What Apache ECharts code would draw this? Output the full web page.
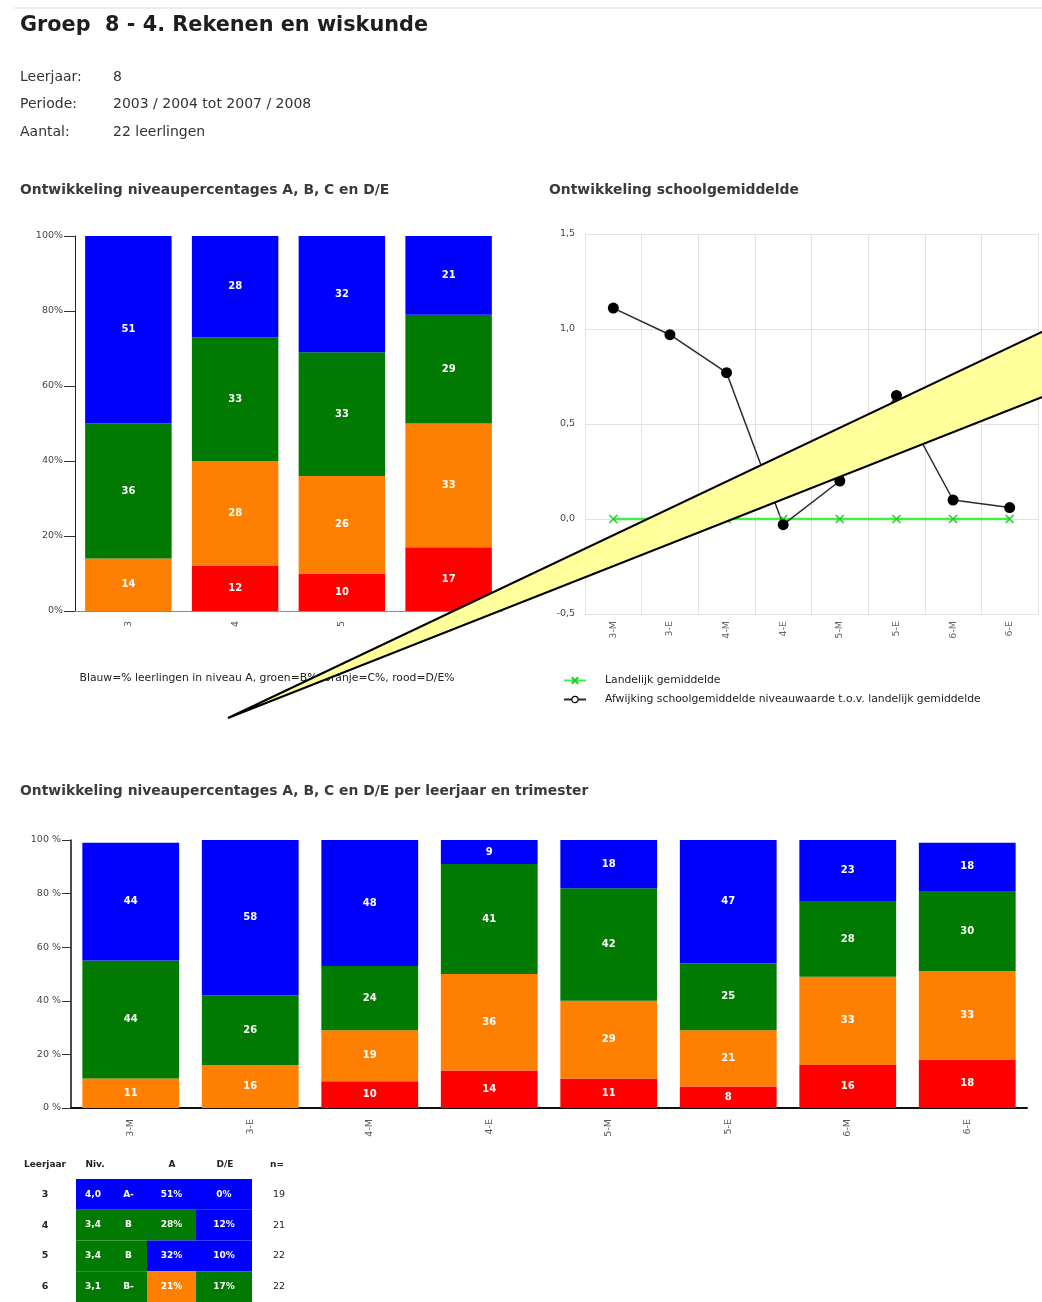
<!DOCTYPE html>
<html>
<head>
<meta charset="utf-8">
<script src="https://cdn.jsdelivr.net/npm/echarts@6/dist/echarts.min.js"></script>
<style>
  html, body { margin: 0; padding: 0; background: #ffffff; }
  #chart { width: 1042px; height: 1302px; }
</style>
</head>
<body>
<div id="chart"></div>
<script>
// ---- Data ----
// Per leerjaar (groep 3 t/m 6): percentage leerlingen per niveau
const yearCats = ['3', '4', '5', '6'];
const yearDE = [null, 12, 10, 17];   // rood   = D/E
const yearC  = [14, 28, 26, 33];     // oranje = C
const yearB  = [36, 33, 33, 29];     // groen  = B
const yearA  = [51, 28, 32, 21];     // blauw  = A

// Per leerjaar en trimester (M = midden, E = eind)
const trimCats = ['3-M', '3-E', '4-M', '4-E', '5-M', '5-E', '6-M', '6-E'];
const trimDE = [null, null, 10, 14, 11, 8, 16, 18];
const trimC  = [11, 16, 19, 36, 29, 21, 33, 33];
const trimB  = [44, 26, 24, 41, 42, 25, 28, 30];
const trimA  = [44, 58, 48, 9, 18, 47, 23, 18];

// Schoolgemiddelde: afwijking t.o.v. landelijk gemiddelde
const landelijk = [0, 0, 0, 0, 0, 0, 0, 0];
const afwijking = [1.11, 0.97, 0.77, -0.03, 0.20, 0.65, 0.10, 0.06];

// Samenvattingstabel per leerjaar
const tableNiv = [4.0, 3.4, 3.4, 3.1];
const tableNivLetter = ['A-', 'B', 'B', 'B-'];
const tableN = [19, 21, 22, 22];
const nivLevel = ['A', 'B', 'B', 'B'];
const aLevel = ['A', 'B', 'A', 'C'];
const deLevel = ['A', 'A', 'A', 'B'];

// ---- Styling ----
const COL = { A: '#0000ff', B: '#007a00', C: '#ff8000', DE: '#ff0000' };
const FONT = 'DejaVu Sans, Verdana, sans-serif';

const pct = v => String(v).replace('.', ',');

function stackSeries(name, data, color, xi, yi, stack) {
  return {
    name: name, type: 'bar', stack: stack, data: data,
    xAxisIndex: xi, yAxisIndex: yi,
    barCategoryGap: '19%',
    itemStyle: { color: color },
    label: {
      show: true, position: 'inside', color: '#ffffff',
      fontFamily: FONT, fontWeight: 'bold', fontSize: 10,
      formatter: p => (p.value == null ? '' : p.value)
    },
    emphasis: { disabled: true }
  };
}

// Table cells: one row per leerjaar, columns: niveau, letter, A%, D/E%
const colEdges = [0, 34, 71, 120, 176];
const tableCells = [];
tableNiv.forEach((v, r) => {
  tableCells.push({ value: [0, r], text: v.toFixed(1).replace('.', ','), level: nivLevel[r] });
  tableCells.push({ value: [1, r], text: tableNivLetter[r], level: nivLevel[r] });
  tableCells.push({ value: [2, r], text: yearA[r] + '%', level: aLevel[r] });
  tableCells.push({ value: [3, r], text: (yearDE[r] || 0) + '%', level: deLevel[r] });
});

const crossPath = 'path://M0,0L10,10M10,0L0,10';
const small = { fontFamily: FONT, fontSize: 9.5 };
const titleStyle = { fontFamily: FONT, fontSize: 13.9, fontWeight: 'bold', color: '#3a3a3a' };

const chart = echarts.init(document.getElementById('chart'), null, { renderer: 'canvas' });

const option = {
  backgroundColor: '#ffffff',
  animation: false,
  title: [
    { text: 'Groep  8 - 4. Rekenen en wiskunde', left: 20, top: 15, padding: 0,
      textStyle: { fontFamily: FONT, fontSize: 20.8, fontWeight: 'bold', color: '#1e1e1e' } },
    { text: 'Ontwikkeling niveaupercentages A, B, C en D/E', left: 20, top: 183, padding: 0, textStyle: titleStyle },
    { text: 'Ontwikkeling schoolgemiddelde', left: 549, top: 183, padding: 0, textStyle: titleStyle },
    { text: 'Ontwikkeling niveaupercentages A, B, C en D/E per leerjaar en trimester', left: 20, top: 784, padding: 0, textStyle: titleStyle }
  ],
  legend: {
    orient: 'vertical', left: 558, top: 670, itemGap: 8,
    itemWidth: 22, itemHeight: 8,
    data: [
      { name: 'Landelijk gemiddelde' },
      { name: 'Afwijking schoolgemiddelde niveauwaarde t.o.v. landelijk gemiddelde',
        itemStyle: { color: '#ffffff', borderColor: '#000000', borderWidth: 1.2 } }
    ],
    textStyle: { fontFamily: FONT, fontSize: 10.8, color: '#222', padding: [0, 0, 0, 14] }
  },
  grid: [
    { left: 75, top: 236, width: 427, height: 375 },
    { left: 585, top: 234, width: 453, height: 380 },
    { left: 71, top: 840, width: 956, height: 268 },
    { left: 76, top: 1179, width: 176, height: 124 }
  ],
  xAxis: [
    { gridIndex: 0, type: 'category', data: yearCats,
      axisLine: { lineStyle: { color: '#8a8a8a' } },
      axisTick: { length: 5, lineStyle: { color: '#9a9a9a' } },
      axisLabel: Object.assign({ rotate: 90, color: '#555', margin: 10 }, small) },
    { gridIndex: 1, type: 'category', data: trimCats,
      axisLine: { show: false }, axisTick: { show: false },
      splitLine: { show: true, lineStyle: { color: '#e2e2e2' } },
      axisLabel: Object.assign({ rotate: 90, color: '#666', margin: 7 }, small) },
    { gridIndex: 2, type: 'category', data: trimCats,
      axisLine: { lineStyle: { color: '#111', width: 2 } },
      axisTick: { length: 7, lineStyle: { color: '#111', width: 1.5 } },
      axisLabel: Object.assign({ rotate: 90, color: '#555', margin: 11 }, small) },
    { gridIndex: 3, type: 'value', min: 0, max: 176, show: false }
  ],
  yAxis: [
    { gridIndex: 0, type: 'value', min: 0, max: 100, interval: 20,
      axisLine: { show: true, lineStyle: { color: '#222' } },
      axisTick: { show: true, length: 11, lineStyle: { color: '#333' } },
      splitLine: { show: false },
      axisLabel: Object.assign({ formatter: '{value}%', color: '#444', margin: 12 }, small) },
    { gridIndex: 1, type: 'value', min: -0.5, max: 1.5, interval: 0.5,
      axisLine: { show: false }, axisTick: { show: false },
      splitLine: { show: true, lineStyle: { color: '#e2e2e2' } },
      axisLabel: Object.assign({ formatter: v => pct(v.toFixed(1)), color: '#444', margin: 10 }, small) },
    { gridIndex: 2, type: 'value', min: 0, max: 100, interval: 20,
      axisLine: { show: true, lineStyle: { color: '#111', width: 1.5 } },
      axisTick: { show: true, length: 9, lineStyle: { color: '#333' } },
      splitLine: { show: false },
      axisLabel: Object.assign({ formatter: '{value} %', color: '#444', margin: 10 }, small) },
    { gridIndex: 3, type: 'category', data: yearCats, inverse: true,
      axisLine: { show: false }, axisTick: { show: false },
      axisLabel: Object.assign({ fontWeight: 'bold', color: '#222', align: 'center', margin: 31 }, small) },
    { gridIndex: 3, type: 'category', data: yearCats, inverse: true, position: 'right',
      axisLine: { show: false }, axisTick: { show: false },
      axisLabel: Object.assign({ color: '#222', align: 'center', margin: 27,
        formatter: (v, i) => String(tableN[i]) }, small) }
  ],
  series: [
    stackSeries('D/E', yearDE, COL.DE, 0, 0, 'jaar'),
    stackSeries('C', yearC, COL.C, 0, 0, 'jaar'),
    stackSeries('B', yearB, COL.B, 0, 0, 'jaar'),
    stackSeries('A', yearA, COL.A, 0, 0, 'jaar'),

    { name: 'Landelijk gemiddelde', type: 'line', data: landelijk,
      xAxisIndex: 1, yAxisIndex: 1,
      symbol: crossPath, symbolSize: 8,
      lineStyle: { color: '#44ee44', width: 2.5 },
      itemStyle: { color: '#44ee44', borderColor: '#22cc22', borderWidth: 1.5 },
      emphasis: { disabled: true } },
    { name: 'Afwijking schoolgemiddelde niveauwaarde t.o.v. landelijk gemiddelde', type: 'line', data: afwijking,
      xAxisIndex: 1, yAxisIndex: 1,
      symbol: 'circle', symbolSize: 11,
      lineStyle: { color: '#2a2a2a', width: 1.5 },
      itemStyle: { color: '#000000' },
      z: 3,
      emphasis: { disabled: true } },

    stackSeries('D/E', trimDE, COL.DE, 2, 2, 'trim'),
    stackSeries('C', trimC, COL.C, 2, 2, 'trim'),
    stackSeries('B', trimB, COL.B, 2, 2, 'trim'),
    stackSeries('A', trimA, COL.A, 2, 2, 'trim'),

    { type: 'custom', xAxisIndex: 3, yAxisIndex: 3, data: tableCells,
      renderItem: function (params, api) {
        const c = api.value(0), r = api.value(1);
        const item = tableCells[params.dataIndex];
        const p0 = api.coord([colEdges[c], r]);
        const p1 = api.coord([colEdges[c + 1], r]);
        const h = api.size([0, 1])[1];
        return {
          type: 'group',
          children: [
            { type: 'rect', shape: { x: p0[0], y: p0[1] - h / 2, width: p1[0] - p0[0], height: h },
              style: { fill: COL[item.level] } },
            { type: 'text', style: { text: item.text, x: (p0[0] + p1[0]) / 2, y: p0[1],
                align: 'center', verticalAlign: 'middle', fill: '#ffffff',
                font: 'bold 9px ' + FONT } }
          ]
        };
      } }
  ],
  graphic: [
    { type: 'line', shape: { x1: 14, y1: 8, x2: 1042, y2: 8 }, style: { stroke: '#d9d9d9', lineWidth: 1 } },
    // Info block
    { type: 'text', x: 20, y: 77, style: { text: 'Leerjaar:', font: '14px ' + FONT, fill: '#333', verticalAlign: 'middle' } },
    { type: 'text', x: 113, y: 77, style: { text: '8', font: '14px ' + FONT, fill: '#333', verticalAlign: 'middle' } },
    { type: 'text', x: 20, y: 104, style: { text: 'Periode:', font: '14px ' + FONT, fill: '#333', verticalAlign: 'middle' } },
    { type: 'text', x: 113, y: 104, style: { text: '2003 / 2004 tot 2007 / 2008', font: '14px ' + FONT, fill: '#333', verticalAlign: 'middle' } },
    { type: 'text', x: 20, y: 132, style: { text: 'Aantal:', font: '14px ' + FONT, fill: '#333', verticalAlign: 'middle' } },
    { type: 'text', x: 113, y: 132, style: { text: '22 leerlingen', font: '14px ' + FONT, fill: '#333', verticalAlign: 'middle' } },
    // Caption under the first bar chart
    { type: 'text', x: 267, y: 678, style: { text: 'Blauw=% leerlingen in niveau A, groen=B%, oranje=C%, rood=D/E%',
        font: '10.8px ' + FONT, fill: '#222', align: 'center', verticalAlign: 'middle' } },
    // Table headers
    { type: 'text', x: 45, y: 1165, style: { text: 'Leerjaar', font: 'bold 9px ' + FONT, fill: '#222', align: 'center', verticalAlign: 'middle' } },
    { type: 'text', x: 95, y: 1165, style: { text: 'Niv.', font: 'bold 9px ' + FONT, fill: '#222', align: 'center', verticalAlign: 'middle' } },
    { type: 'text', x: 172, y: 1165, style: { text: 'A', font: 'bold 9px ' + FONT, fill: '#222', align: 'center', verticalAlign: 'middle' } },
    { type: 'text', x: 225, y: 1165, style: { text: 'D/E', font: 'bold 9px ' + FONT, fill: '#222', align: 'center', verticalAlign: 'middle' } },
    { type: 'text', x: 277, y: 1165, style: { text: 'n=', font: 'bold 9px ' + FONT, fill: '#222', align: 'center', verticalAlign: 'middle' } },
    // Callout wedge drawn over the charts
    { type: 'polygon', z: 100,
      shape: { points: [[228, 718], [1050, 328], [1050, 394]] },
      style: { fill: '#ffff9c', stroke: '#000000', lineWidth: 2 } }
  ]
};

chart.setOption(option);
</script>
</body>
</html>
